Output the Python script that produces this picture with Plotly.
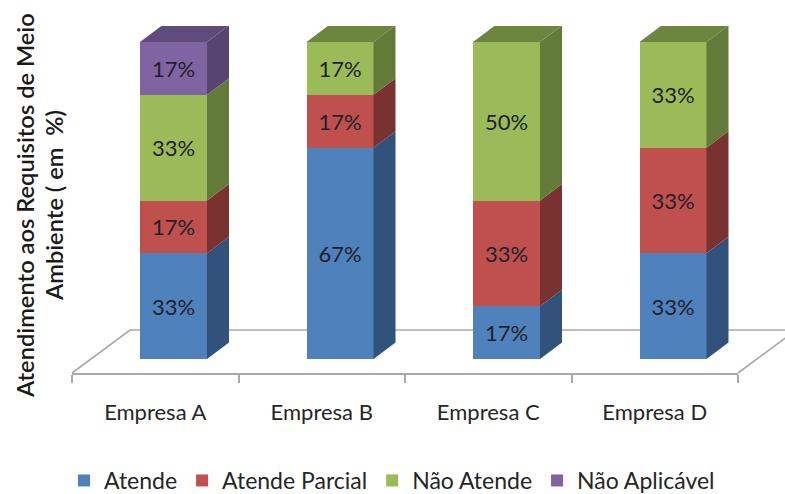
import plotly.graph_objects as go

# Share of environmental requirements met by each company, in percent
empresas = ["Empresa A", "Empresa B", "Empresa C", "Empresa D"]
atende = [33.33, 66.67, 16.67, 33.33]
atende_parcial = [16.67, 16.67, 33.33, 33.33]
nao_atende = [33.33, 16.67, 50.0, 33.33]
nao_aplicavel = [16.67, None, None, None]

series = [
    ("Atende", atende, "#4F81BD", "#31527B", "#3A5F8C"),
    ("Atende Parcial", atende_parcial, "#C0504D", "#7A3230", "#8A3A38"),
    ("Não Atende", nao_atende, "#9BBB59", "#637B38", "#6C8640"),
    ("Não Aplicável", nao_aplicavel, "#8064A2", "#574470", "#5F4B7C"),
]

W, H = 785, 494
FONT = "Lato, Carlito, Calibri, sans-serif"
TEXT = "#262626"
FLOOR = "#A9A9A9"

# Pixel frame of the axes: front floor edge at the bottom, rear top of the columns above
LEFT, RIGHT, BOTTOM, TOP = 72, 738, 373, 26
ZERO_PX, FULL_PX = 359, 42
px_per_unit_y = (ZERO_PX - FULL_PX) / 100.0
px_per_unit_x = (RIGHT - LEFT) / 4.0

y_min = -(BOTTOM - ZERO_PX) / px_per_unit_y
y_max = (ZERO_PX - TOP) / px_per_unit_y

# Column geometry in axis units
bar_offset = (140 - (LEFT + px_per_unit_x / 2)) / px_per_unit_x
bar_width = 67 / px_per_unit_x
depth_x = 22 / px_per_unit_x
depth_y = 16.5 / px_per_unit_y

positions = list(range(len(empresas)))
fig = go.Figure()

# Front faces
for name, values, color, _, _ in series:
    fig.add_trace(go.Bar(
        name=name, x=positions, y=values,
        offset=bar_offset, width=bar_width,
        marker=dict(color=color, line=dict(width=0)),
        texttemplate="%{y:.0f}%", textposition="inside",
        insidetextanchor="middle", textangle=0,
        insidetextfont=dict(family=FONT, size=22, color="#1F1F2B"),
        hovertemplate="%{x}: %{y:.0f}%<extra>" + name + "</extra>",
    ))


def face(xs, ys, color):
    fig.add_trace(go.Scatter(
        x=xs, y=ys, mode="lines", fill="toself", fillcolor=color,
        line=dict(width=0, color=color), hoverinfo="skip",
        showlegend=False, cliponaxis=False,
    ))


# Side and top faces follow the running totals of each stack
for i in positions:
    base = 0.0
    right = i + bar_offset + bar_width
    top_color = None
    for _, values, _, side_color, roof_color in series:
        v = values[i]
        if v is None:
            continue
        face([right, right + depth_x, right + depth_x, right, right],
             [base, base + depth_y, base + v + depth_y, base + v, base],
             side_color)
        base += v
        top_color = roof_color
    front = i + bar_offset
    face([front, right, right + depth_x, front + depth_x, front],
         [base, base, base + depth_y, base + depth_y, base],
         top_color)

# Perspective floor behind the columns; its right edge runs off the canvas
def fx(px):
    return px / W


def fy(px):
    return 1 - px / H


floor_path = (
    f"M {fx(LEFT)} {fy(BOTTOM)} L {fx(130)} {fy(330)} "
    f"L {fx(796)} {fy(330)} L {fx(RIGHT)} {fy(BOTTOM)}"
)
fig.add_shape(type="path", path=floor_path, xref="paper", yref="paper",
              layer="below", line=dict(color=FLOOR, width=1.6))

# Two-line vertical axis title
for text, x_px, y_px in [
    ("Atendimento aos Requisitos de Meio", 25, 206),
    ("Ambiente ( em  %)", 54, 206),
]:
    fig.add_annotation(
        text=text, xref="paper", yref="paper", x=fx(x_px), y=fy(y_px),
        textangle=-90, showarrow=False, xanchor="center", yanchor="middle",
        font=dict(family=FONT, size=23.7, color="#1A1A1A", weight=600),
    )

fig.update_layout(
    width=W, height=H, barmode="stack",
    margin=dict(l=0, r=0, t=0, b=0, autoexpand=False),
    paper_bgcolor="white", plot_bgcolor="white",
    font=dict(family=FONT, size=22, color=TEXT),
    showlegend=True,
    legend=dict(
        orientation="h", x=fx(64), y=fy(459), xanchor="left", yanchor="top",
        font=dict(family=FONT, size=23, color=TEXT), traceorder="normal",
        itemwidth=30, bgcolor="rgba(0,0,0,0)",
    ),
    xaxis=dict(
        domain=[fx(LEFT), fx(RIGHT)], range=[-0.5, 3.5],
        tickmode="array", tickvals=positions, ticktext=empresas,
        ticks="", ticklabelstandoff=19, showgrid=False, zeroline=False,
        showline=True, linecolor=FLOOR, linewidth=1.6,
        tickfont=dict(family=FONT, size=22, color=TEXT),
        minor=dict(tickmode="array", tickvals=[-0.5, 0.5, 1.5, 2.5, 3.5],
                   ticks="outside", ticklen=8, tickwidth=1.6, tickcolor=FLOOR,
                   showgrid=False),
    ),
    yaxis=dict(
        domain=[fy(BOTTOM), fy(TOP)], range=[y_min, y_max],
        visible=False, showgrid=False, zeroline=False,
    ),
)

fig.write_html("out.html", config=dict(displayModeBar=False))
